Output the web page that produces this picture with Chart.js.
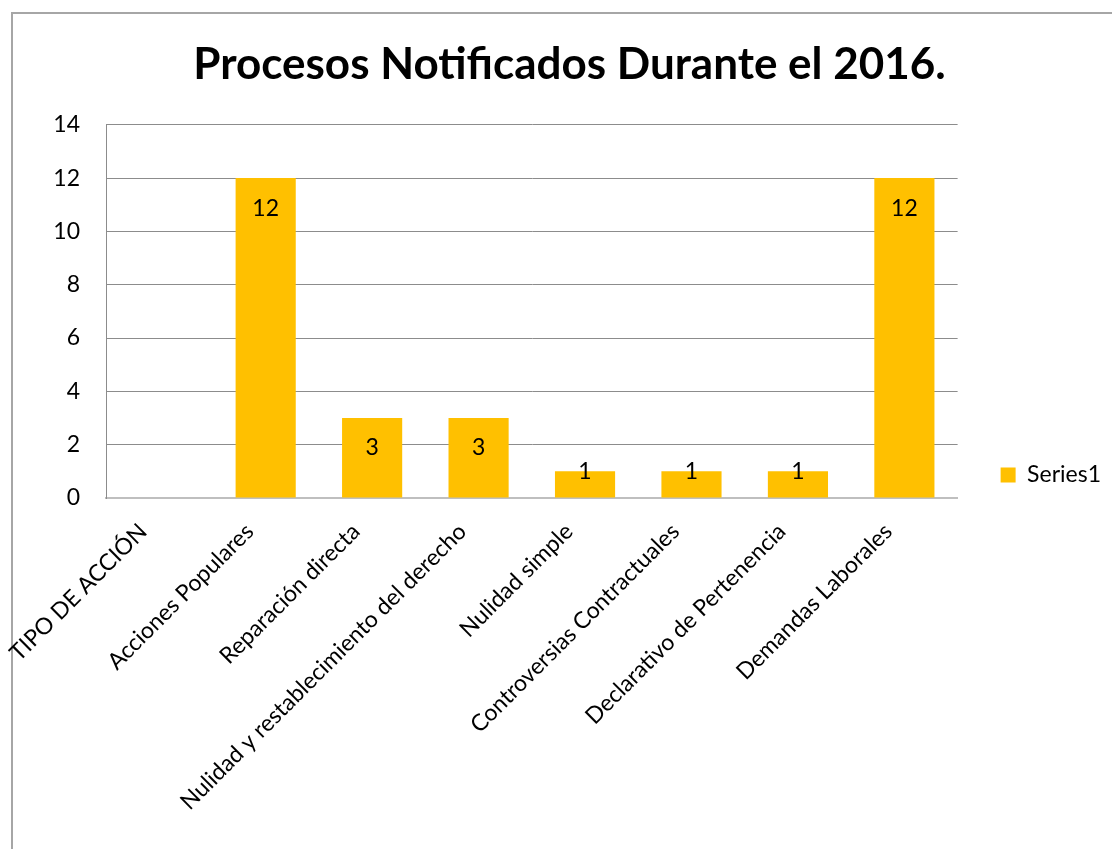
<!DOCTYPE html>
<html>
<head>
<meta charset="utf-8">
<title>Procesos Notificados Durante el 2016</title>
<script src="https://cdn.jsdelivr.net/npm/chart.js@4"></script>
<style>
  html, body { margin: 0; padding: 0; background: #fff; overflow: hidden; }
  #frame {
    position: absolute; left: 11px; top: 12px;
    width: 1200px; height: 1000px;
    border-left: 2px solid #a6a6a6; border-top: 2px solid #a6a6a6;
  }
  #chart { position: absolute; left: 0; top: 0; }
</style>
</head>
<body>
<div id="frame"></div>
<canvas id="chart" width="1125" height="950"></canvas>
<script>
const categories = [
  "TIPO DE ACCIÓN",
  "Acciones Populares",
  "Reparación directa",
  "Nulidad y restablecimiento del derecho",
  "Nulidad simple",
  "Controversias Contractuales",
  "Declarativo de Pertenencia",
  "Demandas Laborales"
];
const seriesName = "Series1";
const seriesValues = [null, 12, 3, 3, 1, 1, 1, 12];
const yTicks = [0, 2, 4, 6, 8, 10, 12, 14];

const font = "Lato";
const gold = "#FFC000";

// values written inside the top of each bar
const barValues = {
  id: "barValues",
  afterDatasetsDraw(chart) {
    const ctx = chart.ctx;
    const meta = chart.getDatasetMeta(0);
    ctx.save();
    ctx.font = "23px " + font;
    ctx.fillStyle = "#000";
    ctx.textAlign = "center";
    ctx.textBaseline = "middle";
    meta.data.forEach((bar, i) => {
      const v = chart.data.datasets[0].data[i];
      if (v === null || v === undefined) return;
      const y = Math.min(bar.y + 30, bar.base - 26);
      ctx.fillText(String(v), bar.x, y);
    });
    ctx.restore();
  }
};

const chart = new Chart(document.getElementById("chart"), {
  type: "bar",
  data: {
    labels: categories,
    datasets: [{
      label: seriesName,
      data: seriesValues,
      backgroundColor: gold,
      borderWidth: 0,
      categoryPercentage: 1,
      barPercentage: 0.565
    }]
  },
  options: {
    responsive: false,
    animation: false,
    events: [],
    layout: { padding: { left: 28, right: 14, top: 0, bottom: 0 } },
    plugins: {
      title: {
        display: true,
        text: "Procesos Notificados Durante el 2016.",
        color: "#000",
        font: { family: font, size: 44, weight: "bold" },
        padding: { top: 38, bottom: 34 }
      },
      legend: {
        position: "right",
        labels: {
          color: "#000",
          font: { family: font, size: 23 },
          boxWidth: 15,
          boxHeight: 15,
          padding: 43
        }
      },
      tooltip: { enabled: false }
    },
    scales: {
      x: {
        grid: { display: false },
        border: { color: "#bfbfbf", width: 2 },
        ticks: {
          color: "#000",
          font: { family: font, size: 23 },
          autoSkip: false,
          minRotation: 45,
          maxRotation: 45,
          padding: 12,
          labelOffset: -16
        },
        afterFit(scale) { scale.height = 452; }
      },
      y: {
        min: 0,
        max: 14,
        grid: { color: "#8c8c8c", drawTicks: false },
        border: { color: "#8c8c8c" },
        afterBuildTicks(scale) { scale.ticks = yTicks.map(v => ({ value: v })); },
        ticks: {
          color: "#000",
          font: { family: font, size: 23 },
          padding: 26
        },
        afterFit(scale) { scale.width = 78; }
      }
    }
  },
  plugins: [barValues]
});
</script>
</body>
</html>
